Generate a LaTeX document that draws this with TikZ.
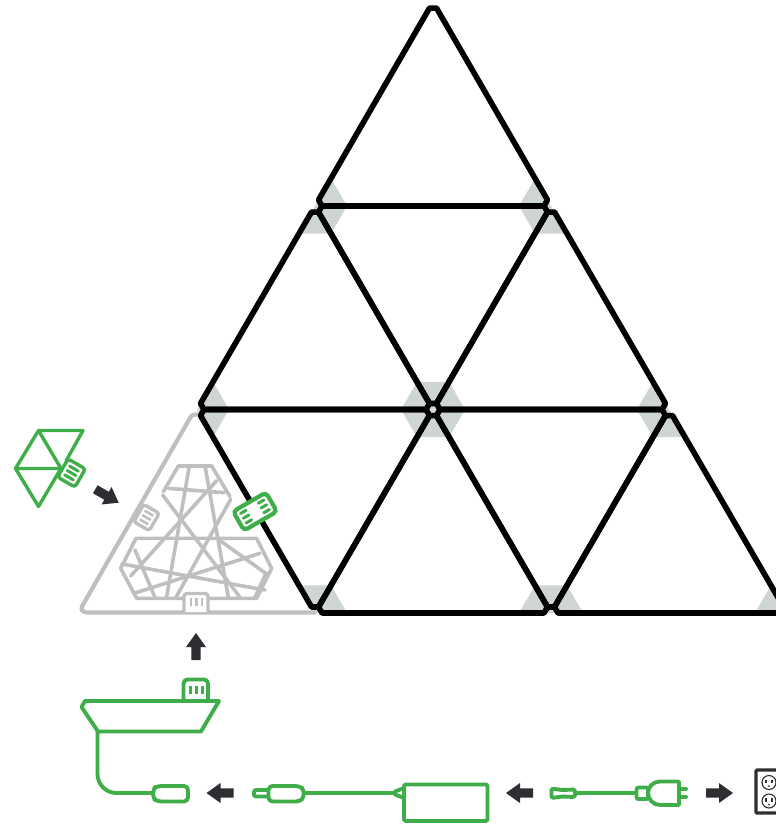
\documentclass[tikz,border=0pt]{standalone}
\usetikzlibrary{calc}
\definecolor{panelgrey}{HTML}{BFBFBF}
\definecolor{cornergrey}{HTML}{CFD4D4}
\definecolor{leafgreen}{HTML}{3FAE49}
\definecolor{arrowdark}{HTML}{2D2E32}
\tikzset{
  panel/.style={draw=black,line width=5.6pt,line join=round},
  ghost/.style={draw=panelgrey,line width=4.2pt,line join=round,rounded corners=3pt},
  lattice/.style={draw=panelgrey,line width=3.6pt,line cap=round,line join=round},
  ghostbar/.style={draw=panelgrey,line width=2.6pt},
  wire/.style={draw=leafgreen,line width=3.9pt,line join=round,line cap=round},
  thinwire/.style={draw=leafgreen,line width=3.4pt,line join=round,line cap=round},
  greenbar/.style={draw=leafgreen,line width=3pt,line cap=round},
  blockarrow/.style={fill=arrowdark,draw=none},
}
\newcommand{\gcorner}[3]{\fill[cornergrey] (#1) -- ($(#1)!32pt!(#2)$) -- ($(#1)!32pt!(#3)$) -- cycle;}
\newcommand{\allcorners}[3]{\gcorner{#1}{#2}{#3}\gcorner{#2}{#1}{#3}\gcorner{#3}{#1}{#2}}
\newcommand{\chamfered}[3]{\draw[panel] ($(#1)!7pt!(#2)$) -- ($(#2)!7pt!(#1)$) -- ($(#2)!7pt!(#3)$) -- ($(#3)!7pt!(#2)$) -- ($(#3)!7pt!(#1)$) -- ($(#1)!7pt!(#3)$) -- cycle;}
\newcommand{\barrow}[3]{\fill[blockarrow,shift={(#1,#2)},rotate=#3]
  (13.5,0) -- (-0.5,-10) -- (-0.5,-4.6) -- (-13.5,-4.6) -- (-13.5,4.6) -- (-0.5,4.6) -- (-0.5,10) -- cycle;}
\begin{document}
\begin{tikzpicture}[x=1pt,y=-1pt]
\useasboundingbox (0,0) rectangle (776,825);
\clip (0,0) rectangle (776,825);
% lattice vertices
\coordinate (r0) at (433,2);
\coordinate (r1a) at (315,206); \coordinate (r1b) at (551,206);
\coordinate (r2a) at (197,409.5); \coordinate (r2b) at (433,409.5); \coordinate (r2c) at (669,409.5);
\coordinate (r3a) at (315,613); \coordinate (r3b) at (551,613); \coordinate (r3c) at (787,613);
% grey corners
\gcorner{r1a}{r0}{r1b}\gcorner{r1b}{r0}{r1a}
\allcorners{r1a}{r2a}{r2b}
\allcorners{r1a}{r1b}{r2b}
\allcorners{r1b}{r2b}{r2c}
\allcorners{r2a}{r2b}{r3a}
\allcorners{r2b}{r3a}{r3b}
\allcorners{r2b}{r2c}{r3b}
\allcorners{r2c}{r3b}{r3c}
% ghost panel
\draw[ghost] (198,414.5) -- (192,414.5) -- (80.5,609) -- (84,612.5) -- (316,612.5);
\begin{scope}[shift={(100,450)},x=0.3333pt,y=-0.3333pt]
  \draw[lattice] (190,125) -- (235,48) -- (335,48) -- (390,140);
  \draw[lattice] (470,265) -- (515,355) -- (470,445) -- (110,445) -- (62,355) -- (108,265) -- cycle;
  \draw[lattice] (268,48) -- (200,440);
  \draw[lattice] (315,48) -- (385,442);
  \draw[lattice] (205,115) -- (372,128);
  \draw[lattice] (350,92) -- (92,378);
  \draw[lattice] (188,135) -- (420,442);
  \draw[lattice] (392,148) -- (228,442);
  \draw[lattice] (66,342) -- (495,420);
  \draw[lattice] (108,428) -- (480,310);
  \draw[lattice] (355,268) -- (500,372);
  \draw[lattice] (105,300) -- (165,442);
  \draw[lattice] (497,372) -- (465,442);
\end{scope}
% grey connectors
\begin{scope}[shift={(146.5,517.5)},rotate=60]
  \draw[fill=white,draw=panelgrey,line width=3.4pt,rounded corners=3pt] (-10,-9) rectangle (10,9);
  \foreach \q in {-5,0,5} \draw[ghostbar] (\q,-5) -- (\q,5);
\end{scope}
\draw[fill=white,draw=panelgrey,line width=3.4pt,rounded corners=3pt] (184,612) -- (184,593.5) -- (208,593.5) -- (208,612);
\foreach \q in {191,196.5,202} \draw[ghostbar] (\q,598) -- (\q,606);
% black panels
\chamfered{r0}{r1a}{r1b}
\chamfered{r1a}{r2a}{r2b}
\chamfered{r1a}{r1b}{r2b}
\chamfered{r1b}{r2b}{r2c}
\chamfered{r2a}{r2b}{r3a}
\chamfered{r2b}{r3a}{r3b}
\chamfered{r2b}{r2c}{r3b}
\chamfered{r2c}{r3b}{r3c}
% green connector on panel edge
\begin{scope}[shift={(255,511.5)},rotate=30]
  \draw[fill=white,draw=leafgreen,line width=4.2pt,rounded corners=4pt] (-19,-11) rectangle (19,11);
  \foreach \q in {-5.5,0,5.5} {
    \draw[greenbar] (-13.5,\q) -- (-7,\q);
    \draw[greenbar] (7,\q) -- (13.5,\q);
  }
\end{scope}
% layout icon
\draw[thinwire] (66,461) -- (83,430.5) -- (38.5,430.5) -- (15.5,468.5) -- (38.5,506.5) -- (60,470);
\draw[thinwire] (38.5,430.5) -- (61,468.5) -- (15.5,468.5);
\begin{scope}[shift={(71.5,473)},rotate=-30]
  \draw[fill=white,draw=leafgreen,line width=3.4pt,rounded corners=3pt] (-10,-10.5) rectangle (10,10.5);
  \foreach \q in {-5,0,5} \draw[greenbar] (-5,\q) -- (5,\q);
\end{scope}
% arrows
\barrow{107}{496}{-30}
\barrow{196}{646.5}{90}
\barrow{220}{793}{180}
\barrow{519.5}{793}{180}
\barrow{719.5}{793}{0}
% controller
\draw[wire] (85,701) -- (219,701) -- (201,731.5) -- (98,731.5) -- (81.5,707) -- cycle;
\draw[wire,rounded corners=4pt] (183.5,701) -- (183.5,679.5) -- (208,679.5) -- (208,701);
\foreach \q in {190,196,202} \draw[greenbar,line cap=butt] (\q,686) -- (\q,694);
\draw[wire,rounded corners=19pt] (97.5,731.5) -- (97.5,793) -- (153,793);
\draw[wire,rounded corners=4pt] (188,786) -- (157,786) -- (153,789) -- (153,798) -- (157,801.5) -- (188,801.5) -- cycle;
% dc plug and adapter
\draw[wire,rounded corners=2pt] (268,790) -- (254,790) -- (254,796.5) -- (268,796.5);
\draw[wire,rounded corners=4pt] (268.5,786) -- (300,786) -- (304,790) -- (304,797) -- (300,801.5) -- (268.5,801.5) -- cycle;
\draw[wire] (304,793) -- (395,793);
\draw[wire] (404,788) -- (395,791.5) -- (395,794.5) -- (404,798);
\draw[wire,rounded corners=2pt] (404,784.5) rectangle (487.5,821);
% mains cord
\draw[wire,rounded corners=1.5pt] (551.5,788.5) -- (562,790) -- (575,789.5) -- (575,797) -- (562,796.5) -- (551.5,798) -- cycle;
\draw[wire] (575,793) -- (636,793);
\draw[wire,rounded corners=1.5pt] (636.5,787.5) rectangle (648,799);
\draw[wire] (679,781.5) -- (660,781.5) .. controls (653,781.5) and (648,787) .. (648,793) .. controls (648,799) and (653,805) .. (660,805) -- (679,805) -- cycle;
\draw[wire] (679,789) -- (686,789);
\draw[wire] (679,797) -- (686,797);
% wall outlet
\draw[draw=arrowdark,fill=white,line width=3.2pt,rounded corners=1pt] (756,770) rectangle (790,813);
\foreach \q in {782.5,801} {
  \draw[draw=arrowdark,line width=1.1pt] (769,\q) circle (7);
  \draw[draw=arrowdark,line width=1.3pt] (766,\q-3) -- (766,\q+0.5);
  \draw[draw=arrowdark,line width=1.3pt] (772,\q-3) -- (772,\q+0.5);
  \fill[arrowdark] (769,\q+3.5) circle (1);
}
\end{tikzpicture}
\end{document}
